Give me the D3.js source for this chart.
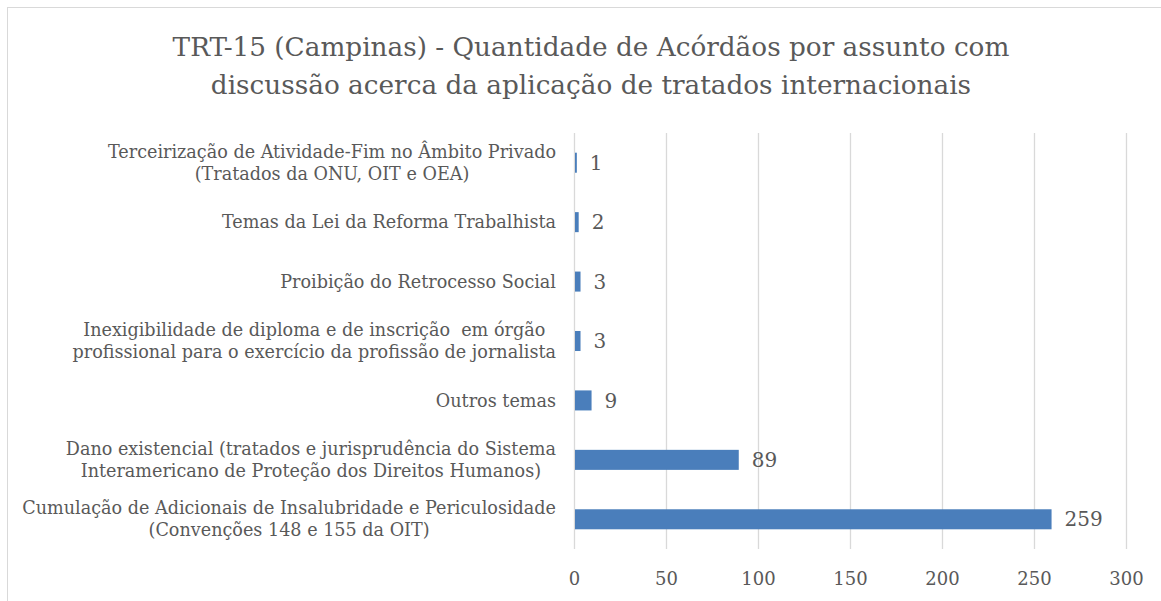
<!DOCTYPE html>
<html>
<head>
<meta charset="utf-8">
<script src="https://cdn.jsdelivr.net/npm/d3@7"></script>
<style>
  html, body { margin: 0; padding: 0; background: #fff; }
  svg { display: block; }
  text { font-family: "DejaVu Serif", "Liberation Serif", serif; fill: #595959; white-space: pre; }
</style>
</head>
<body>
<svg id="chart" width="1161" height="601"></svg>
<script>
const titleLines = [
  "TRT-15 (Campinas) - Quantidade de Acórdãos por assunto com",
  "discussão acerca da aplicação de tratados internacionais"
];
const categories = [
  "Terceirização de Atividade-Fim no Âmbito Privado\n(Tratados da ONU, OIT e OEA)",
  "Temas da Lei da Reforma Trabalhista",
  "Proibição do Retrocesso Social",
  "Inexigibilidade de diploma e de inscrição  em órgão\nprofissional para o exercício da profissão de jornalista",
  "Outros temas",
  "Dano existencial (tratados e jurisprudência do Sistema\nInteramericano de Proteção dos Direitos Humanos)",
  "Cumulação de Adicionais de Insalubridade e Periculosidade\n(Convenções 148 e 155 da OIT)"
];
const values = [1, 2, 3, 3, 9, 89, 259];
const xTicks = [0, 50, 100, 150, 200, 250, 300];

const svg = d3.select("#chart");
const W = 1161, H = 601;

// chart border
svg.append("rect")
  .attr("x", 7.5).attr("y", 7.5)
  .attr("width", W + 10).attr("height", H + 10)
  .attr("fill", "none").attr("stroke", "#d9d9d9").attr("stroke-width", 1);

const margin = {left: 574, right: 35, top: 133, bottom: 52};
const x = d3.scaleLinear().domain([0, 300]).range([margin.left, W - margin.right]);
const y = d3.scaleBand().domain(categories).range([margin.top, H - margin.bottom])
  .paddingInner(0.663).paddingOuter(0.3315);

// title
svg.append("g").selectAll("text").data(titleLines).join("text")
  .attr("x", 591)
  .attr("y", (d, i) => 56 + i * 38)
  .attr("text-anchor", "middle")
  .style("font-size", "26.3px")
  .text(d => d);

// gridlines
svg.append("g").selectAll("line").data(xTicks).join("line")
  .attr("x1", d => Math.round(x(d)) + 0.5).attr("x2", d => Math.round(x(d)) + 0.5)
  .attr("y1", margin.top).attr("y2", H - margin.bottom)
  .attr("stroke", "#d9d9d9").attr("stroke-width", 1.3);

// x axis
const xAxis = d3.axisBottom(x).tickValues(xTicks).tickSize(0).tickPadding(0);
const gx = svg.append("g").attr("transform", `translate(0,${H - margin.bottom})`).call(xAxis);
gx.select(".domain").remove();
gx.selectAll("text")
  .attr("dy", null).attr("y", 36)
  .style("font-size", "18px").style("font-family", '"DejaVu Serif", serif').attr("fill", "#595959");

// bars
svg.append("g").selectAll("rect").data(values).join("rect")
  .attr("x", x(0) + 1)
  .attr("y", (d, i) => y(categories[i]))
  .attr("width", d => x(d) - x(0))
  .attr("height", y.bandwidth())
  .attr("fill", "#4a7ebb");

// value labels
svg.append("g").selectAll("text").data(values).join("text")
  .attr("x", d => x(d) + 14)
  .attr("y", (d, i) => y(categories[i]) + y.bandwidth() / 2)
  .attr("dy", "0.36em")
  .style("font-size", "20px")
  .text(d => d);

// category labels
const labelRight = 556;
const lineH = 22;
const lg = svg.append("g");
categories.forEach((c, i) => {
  const lines = c.split("\n");
  const cy = y(c) + y.bandwidth() / 2;
  const t = lg.append("text").style("font-size", "17.6px");
  lines.forEach((ln, j) => {
    t.append("tspan").attr("x", 0)
      .attr("y", cy + (j - (lines.length - 1) / 2) * lineH)
      .attr("dy", "0.35em")
      .text(ln);
  });
  let maxW = 0;
  t.selectAll("tspan").each(function() { maxW = Math.max(maxW, this.getComputedTextLength()); });
  t.attr("text-anchor", "middle");
  t.selectAll("tspan").attr("x", labelRight - maxW / 2);
});
</script>
</body>
</html>
